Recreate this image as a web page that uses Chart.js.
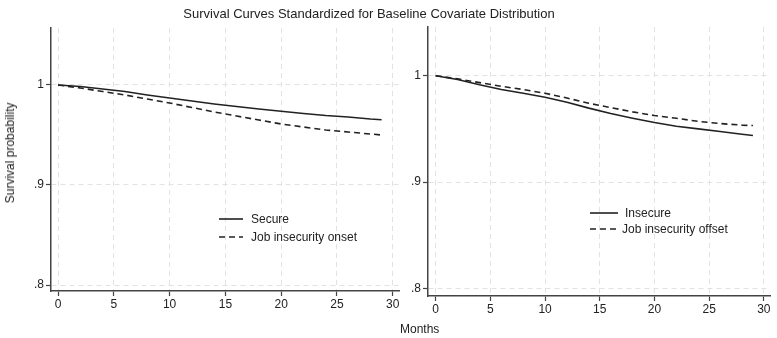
<!DOCTYPE html>
<html>
<head>
<meta charset="utf-8">
<script src="https://cdn.jsdelivr.net/npm/chart.js@4.4.1/dist/chart.umd.min.js"></script>
<style>
  html, body { margin: 0; padding: 0; background: #fff; }
  #wrap { position: relative; width: 777px; height: 338px; overflow: hidden; font-family: "Liberation Sans", Arial, sans-serif; color: #222; }
  canvas { position: absolute; left: 0; top: 0; }
  .txt { position: absolute; white-space: nowrap; font-size: 12px; line-height: 14px; color: #222; }
  .leg { position: absolute; }
</style>
</head>
<body>
<div id="wrap">
  <canvas id="c1" width="777" height="338"></canvas>
  <canvas id="c2" width="777" height="338"></canvas>
  <div class="txt" id="title" style="left:0;width:738px;top:6px;text-align:center;font-size:13px;line-height:15px;">Survival Curves Standardized for Baseline Covariate Distribution</div>
  <div class="txt" id="ytitle" style="left:10px;top:153px;transform:translate(-50%,-50%) rotate(-90deg);">Survival probability</div>
  <div class="txt" id="xtitle" style="left:400px;top:322px;">Months</div>

  <svg class="leg" style="left:0;top:0;" width="777" height="338">
    <line x1="219" y1="219" x2="243" y2="219" stroke="#222" stroke-width="1.6"/>
    <line x1="219" y1="237" x2="243" y2="237" stroke="#222" stroke-width="1.6" stroke-dasharray="6,4"/>
    <line x1="590" y1="213" x2="618" y2="213" stroke="#222" stroke-width="1.6"/>
    <line x1="590" y1="229" x2="620" y2="229" stroke="#222" stroke-width="1.6" stroke-dasharray="6,4"/>
  </svg>
  <div class="txt" style="left:251px;top:212px;">Secure</div>
  <div class="txt" style="left:251px;top:230px;">Job insecurity onset</div>
  <div class="txt" style="left:625px;top:206px;">Insecure</div>
  <div class="txt" style="left:622px;top:222px;">Job insecurity offset</div>
</div>
<script>
// ---- data ----
const months = [0, 2, 4, 6, 8, 10, 12, 14, 16, 18, 20, 22, 24, 26, 28, 29];
const secure = [1.000, 0.9985, 0.996, 0.9935, 0.990, 0.987, 0.984, 0.981, 0.9785, 0.976, 0.9737, 0.9715, 0.9695, 0.968, 0.966, 0.9653];
const onset = [1.000, 0.997, 0.9935, 0.990, 0.986, 0.982, 0.9775, 0.973, 0.969, 0.965, 0.961, 0.958, 0.955, 0.953, 0.951, 0.950];
const insecure = [1.000, 0.9965, 0.9915, 0.987, 0.9835, 0.9797, 0.975, 0.9695, 0.9645, 0.960, 0.9559, 0.9525, 0.950, 0.9475, 0.945, 0.9437];
const offset = [1.000, 0.997, 0.9935, 0.990, 0.987, 0.9835, 0.979, 0.974, 0.970, 0.966, 0.9625, 0.960, 0.957, 0.955, 0.9535, 0.9531];
const xTicks = [0, 5, 10, 15, 20, 25, 30];
const yTicks = [0.8, 0.9, 1.0];
const yTickLabels = ['.8', '.9', '1'];

const lineColor = '#222';
const axisColor = '#444';
const gridColor = '#e2e2e2';
const fontSpec = { family: '"Liberation Sans", Arial, sans-serif', size: 12 };

function pts(ys) { return months.map((m, i) => ({ x: m, y: ys[i] })); }

function makeChart(id, s1, s2, cfg) {
  return new Chart(document.getElementById(id), {
    type: 'line',
    data: {
      datasets: [
        { data: pts(s1), borderColor: lineColor, borderWidth: 1.6, pointRadius: 0, tension: 0, fill: false },
        { data: pts(s2), borderColor: lineColor, borderWidth: 1.6, borderDash: [6, 4], pointRadius: 0, tension: 0, fill: false }
      ]
    },
    options: {
      responsive: false,
      animation: false,
      events: [],
      layout: { padding: cfg.padding },
      plugins: { legend: { display: false }, tooltip: { enabled: false }, title: { display: false } },
      scales: {
        x: {
          type: 'linear', min: cfg.xmin, max: cfg.xmax,
          afterBuildTicks: s => { s.ticks = xTicks.map(v => ({ value: v })); },
          afterFit: s => { s.height = cfg.xh; },
          ticks: { font: fontSpec, color: '#222', padding: 1, maxRotation: 0, autoSkip: false },
          grid: { color: gridColor, lineWidth: 1, tickLength: 5, tickColor: axisColor, tickBorderDash: [], tickWidth: 1.2 },
          border: { display: true, color: axisColor, width: 1.5, dash: [5, 4] }
        },
        y: {
          type: 'linear', min: cfg.ymin, max: cfg.ymax,
          afterBuildTicks: s => { s.ticks = yTicks.map(v => ({ value: v })); },
          afterFit: s => { s.width = cfg.yw; },
          ticks: {
            font: fontSpec, color: '#222', padding: 2, autoSkip: false,
            callback: v => { const i = yTicks.findIndex(t => Math.abs(t - v) < 1e-9); return i >= 0 ? yTickLabels[i] : ''; }
          },
          grid: { color: gridColor, lineWidth: 1, tickLength: 5, tickColor: axisColor, tickBorderDash: [], tickWidth: 1.2 },
          border: { display: true, color: axisColor, width: 1.5, dash: [5, 4] }
        }
      }
    }
  });
}

makeChart('c1', secure, onset, {
  padding: { left: 0, right: 378, top: 28, bottom: 0 },
  yw: 51, xh: 47,
  xmin: -0.63, xmax: 30.56, ymin: 0.794, ymax: 1.057
});
makeChart('c2', insecure, offset, {
  padding: { left: 400, right: 7, top: 27, bottom: 0 },
  yw: 28, xh: 42,
  xmin: -0.70, xmax: 30.56, ymin: 0.7928, ymax: 1.0458
});
</script>
</body>
</html>
